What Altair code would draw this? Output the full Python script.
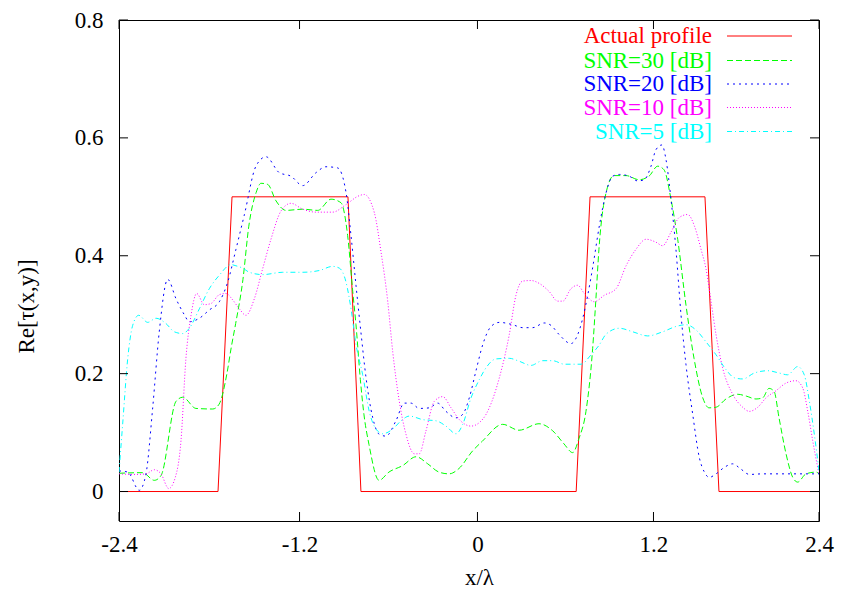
import altair as alt
import pandas as pd

FONT = "Liberation Serif"

# ---------------- data (x/lambda, Re[tau]) ----------------
prof_x = [-2.4, -1.721, -1.625, -0.83, -0.741, 0.735, 0.83, 1.618, 1.714, 2.4]
prof_y = [0, 0, 0.5, 0.5, 0, 0, 0.5, 0.5, 0, 0]

snr30_x = [-2.4, -2.238, -2.158, -2.112, -2.009, -1.963, -1.872, -1.757, -1.714, -1.66,
           -1.63, -1.60, -1.55, -1.51, -1.46, -1.426, -1.38, -1.323, -1.255, -1.14,
           -1.037, -0.946, -0.878, -0.832, -0.797, -0.775, -0.745, -0.72, -0.686, -0.617,
           -0.549, -0.455, -0.363, -0.283, -0.206, -0.137, -0.069, 0.025, 0.09, 0.231,
           0.343, 0.48, 0.574, 0.651, 0.711, 0.754, 0.802, 0.848, 0.871, 0.891,
           0.94, 0.994, 1.077, 1.166, 1.234, 1.294, 1.337, 1.385, 1.431, 1.488,
           1.543, 1.603, 1.646, 1.694, 1.762, 1.843, 1.9, 1.968, 2.014, 2.057,
           2.092, 2.126, 2.174, 2.22, 2.254, 2.311, 2.38, 2.4]
snr30_y = [0.031, 0.032, 0.019, 0.027, 0.153, 0.16, 0.141, 0.14, 0.148, 0.2,
           0.245, 0.285, 0.36, 0.45, 0.507, 0.523, 0.521, 0.493, 0.477, 0.479,
           0.477, 0.496, 0.49, 0.434, 0.339, 0.283, 0.19, 0.13, 0.08, 0.019,
           0.033, 0.044, 0.059, 0.047, 0.033, 0.03, 0.039, 0.069, 0.085, 0.114,
           0.104, 0.115, 0.103, 0.081, 0.066, 0.09, 0.136, 0.243, 0.33, 0.411,
           0.507, 0.536, 0.536, 0.529, 0.535, 0.552, 0.546, 0.496, 0.428, 0.316,
           0.226, 0.159, 0.142, 0.143, 0.157, 0.165, 0.162, 0.157, 0.159, 0.175,
           0.17, 0.125, 0.064, 0.024, 0.016, 0.03, 0.033, 0.03]

snr20_x = [-2.4, -2.34, -2.261, -2.215, -2.169, -2.124, -2.066, -2.009, -1.952, -1.918,
           -1.849, -1.781, -1.712, -1.655, -1.598, -1.54, -1.461, -1.392, -1.301, -1.221,
           -1.14, -1.049, -0.981, -0.9, -0.843, -0.809, -0.775, -0.741, -0.706, -0.66,
           -0.615, -0.569, -0.501, -0.444, -0.398, -0.341, -0.272, -0.215, -0.158, -0.089,
           -0.043, 0.002, 0.048, 0.094, 0.151, 0.208, 0.3, 0.368, 0.437, 0.516,
           0.562, 0.619, 0.699, 0.745, 0.78, 0.814, 0.848, 0.894, 0.94, 0.985,
           1.031, 1.099, 1.157, 1.202, 1.248, 1.282, 1.323, 1.351, 1.385, 1.419,
           1.454, 1.488, 1.534, 1.579, 1.614, 1.648, 1.694, 1.751, 1.808, 1.865,
           1.922, 2.014, 2.4]
snr20_y = [0.035, 0.033, 0.002, 0.03, 0.142, 0.271, 0.36, 0.327, 0.3, 0.288,
           0.294, 0.308, 0.322, 0.355, 0.411, 0.47, 0.552, 0.568, 0.541, 0.535,
           0.519, 0.541, 0.551, 0.549, 0.507, 0.434, 0.35, 0.27, 0.193, 0.125,
           0.097, 0.094, 0.12, 0.15, 0.15, 0.141, 0.142, 0.15, 0.136, 0.125,
           0.131, 0.159, 0.205, 0.249, 0.28, 0.287, 0.283, 0.278, 0.278, 0.286,
           0.282, 0.266, 0.251, 0.266, 0.294, 0.333, 0.38, 0.451, 0.507, 0.535,
           0.538, 0.535, 0.527, 0.529, 0.552, 0.58, 0.588, 0.563, 0.496, 0.411,
           0.299, 0.215, 0.131, 0.058, 0.033, 0.024, 0.03, 0.041, 0.047, 0.038,
           0.029, 0.03, 0.03]

snr10_x = [-2.4, -2.283, -2.215, -2.158, -2.112, -2.059, -2.014, -1.975, -1.941, -1.906,
           -1.867, -1.815, -1.769, -1.712, -1.666, -1.62, -1.575, -1.529, -1.472, -1.415,
           -1.358, -1.289, -1.221, -1.14, -1.049, -0.935, -0.843, -0.752, -0.718, -0.649,
           -0.603, -0.557, -0.523, -0.478, -0.432, -0.375, -0.341, -0.295, -0.238, -0.18,
           -0.123, -0.066, 0.014, 0.071, 0.117, 0.139, 0.208, 0.276, 0.322, 0.368,
           0.425, 0.482, 0.551, 0.608, 0.643, 0.699, 0.745, 0.791, 0.859, 0.928,
           1.008, 1.077, 1.145, 1.214, 1.282, 1.328, 1.385, 1.442, 1.5, 1.545,
           1.591, 1.625, 1.66, 1.694, 1.74, 1.808, 1.877, 1.922, 1.98, 2.037,
           2.105, 2.174, 2.242, 2.288, 2.323, 2.357, 2.391, 2.4]
snr10_y = [0.03, 0.029, 0.03, 0.037, 0.03, 0.005, 0.024, 0.086, 0.226, 0.299,
           0.336, 0.317, 0.319, 0.334, 0.336, 0.325, 0.31, 0.299, 0.327, 0.378,
           0.428, 0.476, 0.489, 0.479, 0.474, 0.474, 0.487, 0.502, 0.504, 0.473,
           0.406, 0.322, 0.237, 0.153, 0.097, 0.064, 0.064, 0.103, 0.153, 0.161,
           0.142, 0.122, 0.111, 0.117, 0.131, 0.142, 0.193, 0.266, 0.333, 0.357,
           0.358, 0.353, 0.339, 0.323, 0.323, 0.344, 0.35, 0.336, 0.322, 0.333,
           0.344, 0.383, 0.411, 0.428, 0.423, 0.417, 0.44, 0.465, 0.47, 0.451,
           0.411, 0.378, 0.322, 0.266, 0.209, 0.165, 0.143, 0.136, 0.143, 0.159,
           0.171, 0.184, 0.188, 0.176, 0.136, 0.086, 0.041, 0.03]

snr5_x = [-2.4, -2.375, -2.34, -2.306, -2.265, -2.203, -2.146, -2.078, -2.021, -1.963,
          -1.918, -1.849, -1.781, -1.712, -1.632, -1.598, -1.552, -1.506, -1.415, -1.277,
          -1.14, -1.026, -0.935, -0.889, -0.843, -0.809, -0.775, -0.729, -0.684, -0.638,
          -0.592, -0.523, -0.466, -0.409, -0.317, -0.226, -0.158, -0.089, -0.043, 0.014,
          0.071, 0.117, 0.185, 0.276, 0.345, 0.425, 0.505, 0.574, 0.654, 0.768,
          0.837, 0.894, 0.94, 1.031, 1.123, 1.225, 1.328, 1.419, 1.488, 1.557,
          1.625, 1.694, 1.762, 1.819, 1.877, 1.956, 2.048, 2.128, 2.185, 2.254,
          2.299, 2.334, 2.368, 2.4]
snr5_y = [0.033, 0.114, 0.226, 0.282, 0.299, 0.287, 0.294, 0.285, 0.271, 0.268,
          0.277, 0.31, 0.344, 0.367, 0.385, 0.383, 0.379, 0.372, 0.368, 0.372,
          0.372, 0.375, 0.382, 0.379, 0.355, 0.31, 0.25, 0.198, 0.136, 0.106,
          0.098, 0.106, 0.12, 0.128, 0.122, 0.12, 0.111, 0.098, 0.114, 0.159,
          0.19, 0.21, 0.225, 0.226, 0.221, 0.214, 0.222, 0.222, 0.216, 0.216,
          0.232, 0.249, 0.267, 0.277, 0.271, 0.264, 0.271, 0.28, 0.283, 0.274,
          0.254, 0.232, 0.207, 0.193, 0.191, 0.201, 0.205, 0.201, 0.198, 0.212,
          0.198, 0.153, 0.097, 0.035]

series_names = ["Actual profile", "SNR=30 [dB]", "SNR=20 [dB]", "SNR=10 [dB]", "SNR=5 [dB]"]
series_colors = ["#ff0000", "#00ff00", "#0000ff", "#ff00ff", "#00ffff"]
series_dash = [None, [6, 3], [2, 4], [1, 2], [5, 3, 1, 3]]
series_data = [(prof_x, prof_y), (snr30_x, snr30_y), (snr20_x, snr20_y),
               (snr10_x, snr10_y), (snr5_x, snr5_y)]

x_tick_values = [-2.4, -1.162, 0.058, 1.265, 2.4]
x_tick_labels = ["-2.4", "-1.2", "0", "1.2", "2.4"]
y_tick_values = [0, 0.2, 0.4, 0.6, 0.8]
y_tick_labels = ["0", "0.2", "0.4", "0.6", "0.8"]

X_DOMAIN = [-2.4, 2.4]
Y_DOMAIN = [-0.05, 0.8]

W, H = 700, 501


def label_expr(values, labels):
    expr = "'" + labels[-1] + "'"
    for i in range(len(values) - 2, -1, -1):
        mid = (values[i] + values[i + 1]) / 2
        expr = f"datum.value < {mid} ? '{labels[i]}' : ({expr})"
    return expr


xscale = alt.Scale(domain=X_DOMAIN, nice=False, zero=False)
yscale = alt.Scale(domain=Y_DOMAIN, nice=False, zero=False)

xaxis = alt.Axis(values=x_tick_values, labelExpr=label_expr(x_tick_values, x_tick_labels),
                 ticks=False, domain=False, grid=False, labelFont=FONT, labelFontSize=23,
                 labelColor="black", labelPadding=12, labelFlush=False, labelOverlap=False,
                 title="x/λ", titleFont=FONT, titleFontSize=23, titleFontWeight="normal",
                 titleColor="black", titleX=360, titleY=56, titleAlign="center",
                 titleBaseline="middle")
yaxis = alt.Axis(values=y_tick_values, labelExpr=label_expr(y_tick_values, y_tick_labels),
                 ticks=False, domain=False, grid=False, labelFont=FONT, labelFontSize=23,
                 labelColor="black", labelPadding=16, labelFlush=False, labelOverlap=False,
                 title="Re[τ(x,y)]", titleFont=FONT, titleFontSize=23,
                 titleFontWeight="normal", titleColor="black", titleX=-93, titleY=286,
                 titleAngle=-90, titleAlign="center", titleBaseline="middle")

layers = []
for (xs, ys), name, col, dash in zip(series_data, series_names, series_colors, series_dash):
    df = pd.DataFrame({"x": xs, "y": ys, "i": list(range(len(xs)))})
    kw = dict(color=col, strokeWidth=1, clip=True)
    if dash is not None:
        kw["strokeDash"] = dash
        kw["interpolate"] = "monotone"
    layers.append(
        alt.Chart(df).mark_line(**kw).encode(
            x=alt.X("x:Q", scale=xscale, axis=xaxis),
            y=alt.Y("y:Q", scale=yscale, axis=yaxis),
            order="i:Q",
        )
    )

# inward ticks on all four sides (gnuplot style)
TL = 9
xt = pd.DataFrame({"x": x_tick_values})
yt = pd.DataFrame({"y": y_tick_values})
layers.append(alt.Chart(xt).mark_rule(color="black", strokeWidth=1).encode(
    x=alt.X("x:Q", scale=xscale, axis=xaxis), y=alt.value(H), y2=alt.value(H - TL)))
layers.append(alt.Chart(xt).mark_rule(color="black", strokeWidth=1).encode(
    x=alt.X("x:Q", scale=xscale, axis=xaxis), y=alt.value(0), y2=alt.value(TL)))
layers.append(alt.Chart(yt).mark_rule(color="black", strokeWidth=1).encode(
    y=alt.Y("y:Q", scale=yscale, axis=yaxis), x=alt.value(0), x2=alt.value(TL)))
layers.append(alt.Chart(yt).mark_rule(color="black", strokeWidth=1).encode(
    y=alt.Y("y:Q", scale=yscale, axis=yaxis), x=alt.value(W), x2=alt.value(W - TL)))

# key (top right)
key_rows = [16, 40.5, 64, 87.5, 111.5]
for name, col, dash, ry in zip(series_names, series_colors, series_dash, key_rows):
    kdf = pd.DataFrame({"t": [name]})
    layers.append(alt.Chart(kdf).mark_text(align="right", baseline="middle", font=FONT,
                                           fontSize=23, color=col).encode(
        x=alt.value(593), y=alt.value(ry), text="t:N"))
    rkw = dict(color=col, strokeWidth=1)
    if dash is not None:
        rkw["strokeDash"] = dash
    layers.append(alt.Chart(kdf).mark_rule(**rkw).encode(
        x=alt.value(608), x2=alt.value(673), y=alt.value(ry)))

chart = alt.layer(*layers).properties(
    width=W, height=H,
    autosize=alt.AutoSizeParams(type="none"),
    padding={"left": 111, "top": 12, "right": 16, "bottom": 69},
    background="white",
).configure_view(stroke="black", strokeWidth=1)

chart.save("out.html", embed_options={"renderer": "svg", "actions": False})
